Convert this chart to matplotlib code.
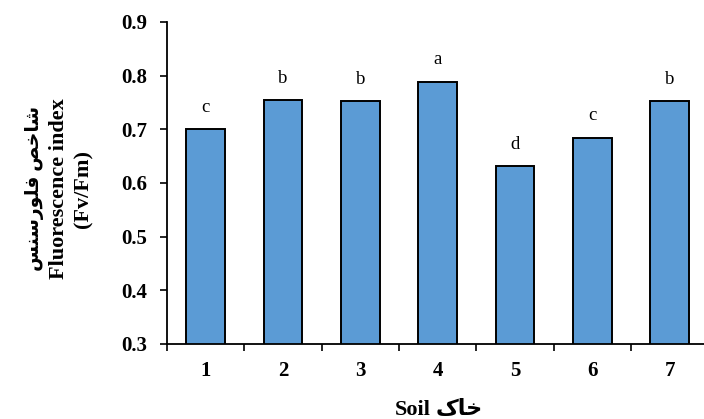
import matplotlib
matplotlib.use("Agg")
import matplotlib.pyplot as plt
import numpy as np

# داده‌های شاخص فلورسنس برای هر خاک
soils = ["1", "2", "3", "4", "5", "6", "7"]
fv_fm = [0.700, 0.754, 0.752, 0.789, 0.631, 0.684, 0.752]
groups = ["c", "b", "b", "a", "d", "c", "b"]
y_ticks = [0.3, 0.4, 0.5, 0.6, 0.7, 0.8, 0.9]

# متن فارسی به صورت شکل‌های نمایشی و ترتیب چپ به راست (matplotlib شکل‌دهی عربی ندارد)
fa_index = "\uFEB2\uFEE8\uFEB3\uFEAD\uFEEE\uFEE0\uFED3 \uFEBA\uFEA7\uFE8E\uFEB7"
fa_soil = "\u06A9\uFE8E\uFEA7"

fam = ["Liberation Serif", "DejaVu Sans"]
plt.rcParams["font.family"] = fam

fig = plt.figure(figsize=(7.04, 4.19), dpi=100)
ax = fig.add_axes([0.2372, 0.179, 0.769, 0.7685])

x = np.arange(len(soils))
ax.bar(x, fv_fm, width=0.5, color="#5B9BD5", edgecolor="black", linewidth=1.4, zorder=2)

for xi, v, g in zip(x, fv_fm, groups):
    ax.text(xi, v + 0.041, g, ha="center", va="center", fontsize=13.5, family=fam)

ax.set_xlim(-0.5, len(soils) - 0.5)
ax.set_ylim(0.3, 0.9)
ax.set_yticks(y_ticks)
ax.set_yticklabels([f"{t:.1f}" for t in y_ticks], fontsize=15, fontweight="bold")

# برچسب‌ها در مرکز ستون‌ها، خط تیک‌ها در مرز بین ستون‌ها
ax.set_xticks(x)
ax.set_xticklabels(soils, fontsize=15, fontweight="bold")
ax.set_xticks(np.arange(len(soils) + 1) - 0.5, minor=True)
ax.tick_params(axis="x", which="major", length=0, pad=12)
ax.tick_params(axis="x", which="minor", length=5, width=1.2, direction="out")
ax.tick_params(axis="y", length=5, width=1.2, direction="out", pad=9.5)

for s in ["top", "right"]:
    ax.spines[s].set_visible(False)
for s in ["left", "bottom"]:
    ax.spines[s].set_linewidth(1.3)

# عنوان محور عمودی در سه سطر
label_y = 0.549
fig.text(0.0497, label_y, fa_index, rotation=90, ha="center", va="center",
         fontsize=13.5, fontweight="bold", family=fam)
fig.text(0.0845, label_y, "Fluorescence index", rotation=90, ha="center", va="center",
         fontsize=16, fontweight="bold", family=fam)
fig.text(0.1186, label_y, "(Fv/Fm)", rotation=90, ha="center", va="center",
         fontsize=16, fontweight="bold", family=fam)

# عنوان محور افقی
fig.text(0.612, 0.0215, "Soil", ha="right", va="center",
         fontsize=16, fontweight="bold", family=fam)
fig.text(0.619, 0.0215, fa_soil, ha="left", va="center",
         fontsize=16, fontweight="bold", family=fam)

fig.savefig("out.png", dpi=100)
